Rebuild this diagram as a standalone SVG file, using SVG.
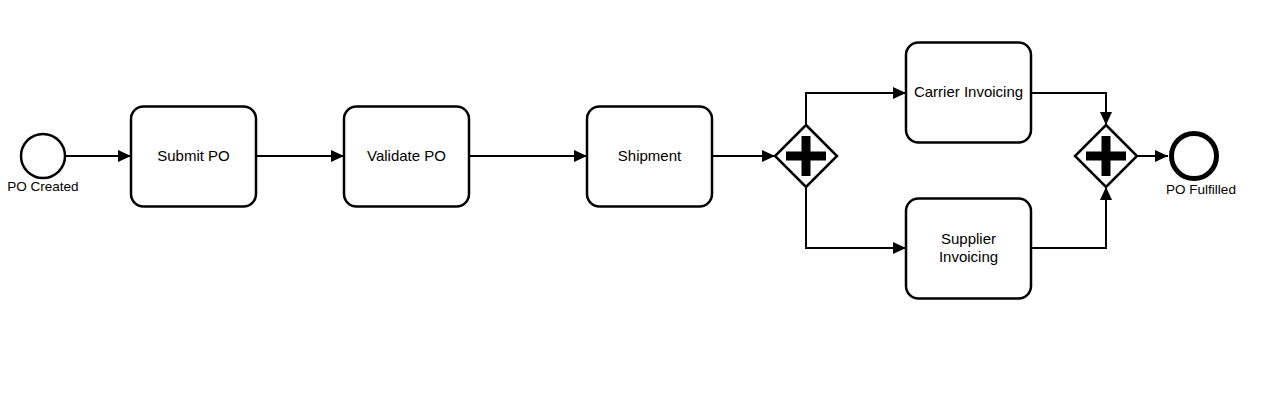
<svg xmlns="http://www.w3.org/2000/svg" width="1276" height="417" viewBox="0 0 1276 417">
<style>
.task{fill:#fff;stroke:#000;stroke-width:2.5}
.ev{fill:#fff;stroke:#000;stroke-width:2.5}
.evend{fill:#fff;stroke:#000;stroke-width:5}
.gw{fill:#fff;stroke:#000;stroke-width:2.5;stroke-linejoin:miter}
.t{font-family:"Liberation Sans",Arial,sans-serif;font-size:15px;fill:#000;text-anchor:middle}
.lbl{font-family:"Liberation Sans",Arial,sans-serif;font-size:13.5px;fill:#000;text-anchor:middle}
.flow{fill:none;stroke:#000;stroke-width:2;marker-end:url(#arr)}
</style>
<defs>
<marker id="arr" markerUnits="userSpaceOnUse" markerWidth="13" markerHeight="12" refX="13" refY="6" orient="auto">
<path d="M0 0 L13 6 L0 12 Z" fill="#000"/>
</marker>
<path id="plus" d="M-4.5 -20 H4.5 V-4.5 H20 V4.5 H4.5 V20 H-4.5 V4.5 H-20 V-4.5 H-4.5 Z" fill="#000"/>
</defs>
<rect width="1276" height="417" fill="#fff"/>
<g id="connectors">
<path class="flow" d="M65 156 L131 156"/>
<path class="flow" d="M256 156 L344 156"/>
<path class="flow" d="M469 156 L587 156"/>
<path class="flow" d="M712 156 L775 156"/>
<path class="flow" d="M806 125 L806 93 L906 93"/>
<path class="flow" d="M806 187 L806 248 L906 248"/>
<path class="flow" d="M1031 93 L1106 93 L1106 125"/>
<path class="flow" d="M1031 248 L1106 248 L1106 187"/>
<path class="flow" d="M1137 156 L1168 156"/>
</g>
<g id="start">
<circle class="ev" cx="43" cy="156" r="22"/>
<text class="lbl" x="43" y="191">PO Created</text>
</g>
<g id="submit">
<rect class="task" x="131" y="106.5" width="125" height="100" rx="12.5"/>
<text class="t" x="193.5" y="161">Submit PO</text>
</g>
<g id="validate">
<rect class="task" x="344" y="106.5" width="125" height="100" rx="12.5"/>
<text class="t" x="406.5" y="161">Validate PO</text>
</g>
<g id="shipment">
<rect class="task" x="587" y="106.5" width="125" height="100" rx="12.5"/>
<text class="t" x="649.5" y="161">Shipment</text>
</g>
<g id="split">
<path class="gw" d="M806 125 L837 156 L806 187 L775 156 Z"/>
<use href="#plus" x="806" y="156"/>
</g>
<g id="carrier">
<rect class="task" x="906" y="42.5" width="125" height="100" rx="12.5"/>
<text class="t" x="968.5" y="97">Carrier Invoicing</text>
</g>
<g id="supplier">
<rect class="task" x="906" y="198.5" width="125" height="100" rx="12.5"/>
<text class="t" x="968.5" y="244">Supplier</text>
<text class="t" x="968.5" y="262">Invoicing</text>
</g>
<g id="join">
<path class="gw" d="M1106 125 L1137 156 L1106 187 L1075 156 Z"/>
<use href="#plus" x="1106" y="156"/>
</g>
<g id="end">
<circle class="evend" cx="1194" cy="156" r="22.5"/>
<text class="lbl" x="1201" y="194">PO Fulfilled</text>
</g>
</svg>
